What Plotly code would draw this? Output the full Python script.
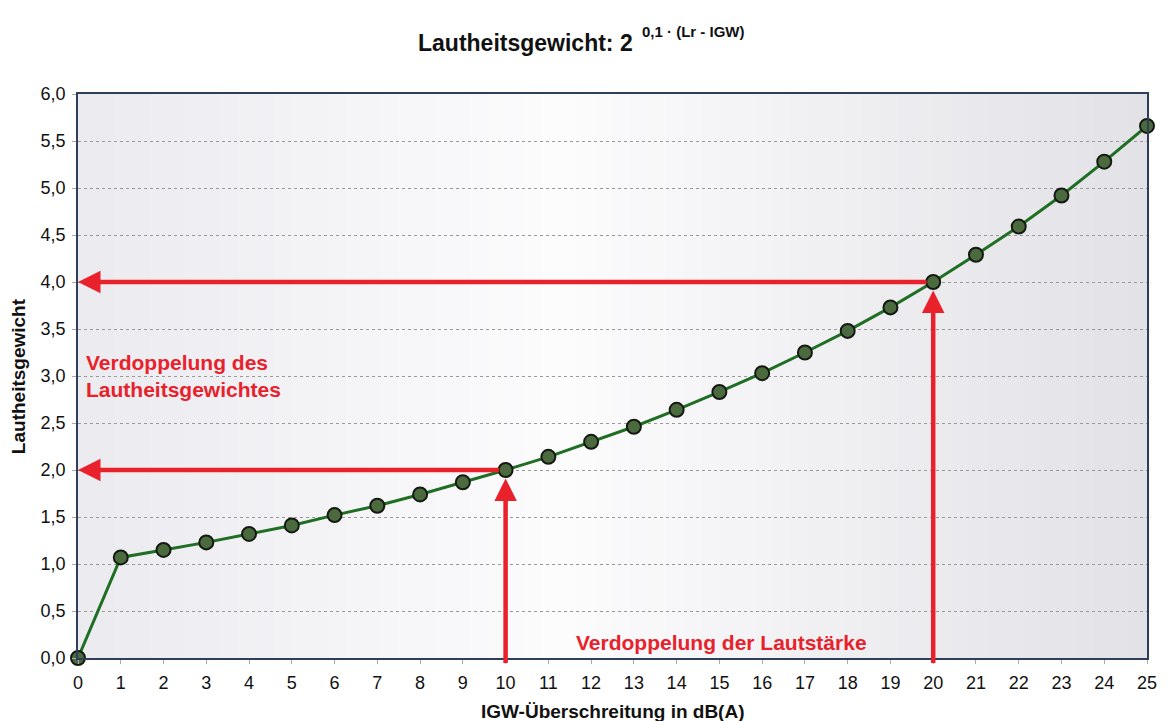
import plotly.graph_objects as go

x_vals = list(range(0, 26))
y_vals = [0.00, 1.07, 1.15, 1.23, 1.32, 1.41, 1.52, 1.62, 1.74, 1.87, 2.00,
          2.14, 2.30, 2.46, 2.64, 2.83, 3.03, 3.25, 3.48, 3.73, 4.00,
          4.29, 4.59, 4.92, 5.28, 5.66]
y_ticks = [0.0, 0.5, 1.0, 1.5, 2.0, 2.5, 3.0, 3.5, 4.0, 4.5, 5.0, 5.5, 6.0]
doubling_x = [10, 20]
doubling_y = [2.0, 4.0]

FONT = "Liberation Sans, Arial, sans-serif"
RED = "#e8212b"
W, H = 1168, 721
ML, MR, MT, MB = 78, 11, 94, 63

fig = go.Figure()

# background gradient (style only)
shapes = []
n = 60
def lerp(a, b, t):
    return int(round(a + (b - a) * t))
for i in range(n):
    t = i / (n - 1)
    if t < 0.45:
        u = t / 0.45
        c = (lerp(235, 252, u), lerp(235, 252, u), lerp(240, 253, u))
    else:
        u = (t - 0.45) / 0.55
        c = (lerp(252, 226, u), lerp(252, 226, u), lerp(253, 231, u))
    shapes.append(dict(type="rect", xref="paper", yref="paper",
                       x0=i / n, x1=(i + 1) / n + 0.002, y0=0, y1=1,
                       fillcolor="rgb(%d,%d,%d)" % c, line=dict(width=0),
                       layer="below"))

fig.add_trace(go.Scatter(
    x=x_vals, y=y_vals, mode="lines+markers",
    line=dict(color="#1f6e23", width=3),
    marker=dict(size=14, color="#4b6b3f", line=dict(color="#141a12", width=2)),
    cliponaxis=False, showlegend=False, hoverinfo="skip",
))

annotations = []
for xv, yv in zip(doubling_x, doubling_y):
    annotations.append(dict(x=0, y=yv, ax=xv - 0.12, ay=yv, xref="x", yref="y",
                            axref="x", ayref="y", text="", showarrow=True,
                            arrowhead=2, arrowsize=1.0, arrowwidth=4.5,
                            arrowcolor=RED))
    annotations.append(dict(x=xv, y=yv - 0.09, ax=xv, ay=-0.07, xref="x", yref="y",
                            axref="x", ayref="y", text="", showarrow=True,
                            arrowhead=2, arrowsize=1.0, arrowwidth=4.5,
                            arrowcolor=RED))

annotations.append(dict(x=0.15, y=3.0, xref="x", yref="y", xanchor="left",
                        yanchor="middle", align="left", showarrow=False,
                        text="<b>Verdoppelung des<br>Lautheitsgewichtes</b>",
                        font=dict(family=FONT, size=21, color=RED)))
annotations.append(dict(x=15.05, y=0.16, xref="x", yref="y", xanchor="center",
                        yanchor="middle", showarrow=False,
                        text="<b>Verdoppelung der Lautstärke</b>",
                        font=dict(family=FONT, size=21, color=RED)))
annotations.append(dict(x=0.5, y=-0.094, xref="paper", yref="paper",
                        xanchor="center", yanchor="middle", showarrow=False,
                        text="<b>IGW-Überschreitung in dB(A)</b>",
                        font=dict(family=FONT, size=19, color="#111")))
annotations.append(dict(x=-0.056, y=0.5, xref="paper", yref="paper",
                        xanchor="center", yanchor="middle", showarrow=False,
                        textangle=-90, text="<b>Lautheitsgewicht</b>",
                        font=dict(family=FONT, size=19, color="#111")))

def page_to_paper(px, py):
    return (px - ML) / (W - ML - MR), (H - MB - py) / (H - MT - MB)

tx, ty = page_to_paper(640, 43)
annotations.append(dict(x=tx, y=ty, xref="paper", yref="paper",
                        xanchor="right", yanchor="middle", showarrow=False,
                        text="<b>Lautheitsgewicht: 2</b>",
                        font=dict(family=FONT, size=23, color="#111")))
sx, sy = page_to_paper(645, 31)
annotations.append(dict(x=sx, y=sy, xref="paper", yref="paper",
                        xanchor="left", yanchor="middle", showarrow=False,
                        text="<b>0,1 · (Lr - IGW)</b>",
                        font=dict(family=FONT, size=15, color="#111")))

fig.update_layout(
    width=W, height=H,
    margin=dict(l=ML, r=MR, t=MT, b=MB),
    paper_bgcolor="white", plot_bgcolor="rgba(0,0,0,0)",
    separators=",.",
    font=dict(family=FONT, size=18, color="#111"),
    shapes=shapes, annotations=annotations,
    xaxis=dict(range=[0, 25], tickmode="array", tickvals=x_vals,
               showgrid=False, zeroline=False, showline=True,
               linecolor="#2f3f5a", linewidth=1.5, mirror=True,
               ticks="outside", ticklen=4, tickcolor="#aaaaaa",
               ticklabelstandoff=4,
               tickfont=dict(size=18, family=FONT, color="#111")),
    yaxis=dict(range=[0, 6], tickmode="array", tickvals=y_ticks,
               tickformat=".1f", showgrid=True, gridcolor="#9a9a9a",
               griddash="dot", gridwidth=1, zeroline=False, showline=True,
               linecolor="#2f3f5a", linewidth=1.5, mirror=True,
               ticks="outside", ticklen=4, tickcolor="#aaaaaa",
               ticklabelstandoff=3,
               tickfont=dict(size=18, family=FONT, color="#111")),
)

fig.write_html("out.html", config={"displayModeBar": False},
               post_script="document.body.style.margin='0';")
